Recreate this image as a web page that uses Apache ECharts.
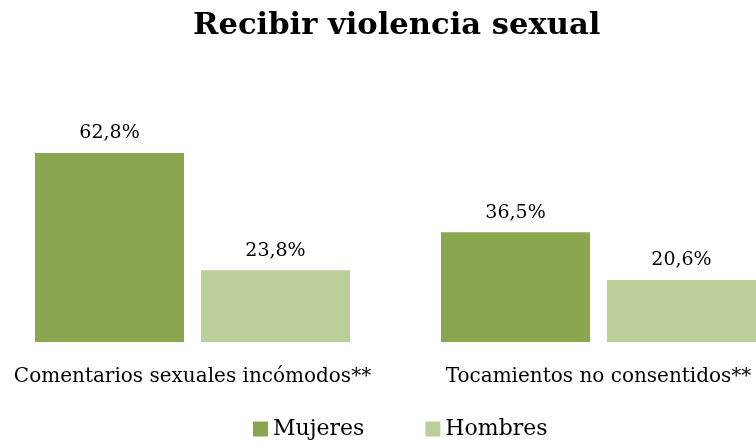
<html lang="es">
<head>
  <meta charset="UTF-8">
  <title>Recibir violencia sexual</title>
  <style>
    html, body { margin: 0; padding: 0; background: #fff; }
    #chart { width: 756px; height: 444px; }
  </style>
</head>
<body>
  <div id="chart"></div>
  <script src="https://cdn.jsdelivr.net/npm/echarts@6/dist/echarts.min.js"></script>
  <script>
    var categories = ['Comentarios sexuales incómodos**', 'Tocamientos no consentidos**']
    var mujeres = [62.8, 36.5]
    var hombres = [23.8, 20.6]
    var seriesNames = ['Mujeres', 'Hombres']

    var font = 'DejaVu Serif'
    var fmt = function (p) {
      return p.value.toFixed(1).replace('.', ',') + '%'
    }

    var chart = echarts.init(document.getElementById('chart'))
    chart.setOption({
      color: ['#8aa64f', '#bbcf99'],
      animation: false,
      title: {
        text: 'Recibir violencia sexual',
        left: 188,
        top: 6,
        textStyle: { fontFamily: font, fontWeight: 'bold', fontSize: 30.6, color: '#000' }
      },
      legend: {
        top: 413,
        left: 248,
        itemWidth: 15,
        itemHeight: 15,
        itemGap: 61,
        icon: 'rect',
        textStyle: { fontFamily: font, fontSize: 22, color: '#000' },
        data: seriesNames
      },
      grid: { left: -10.5, width: 812, top: 41, bottom: 102, outerBoundsMode: 'none' },
      xAxis: {
        type: 'category',
        data: categories,
        axisLine: { show: false },
        axisTick: { show: false },
        axisLabel: { interval: 0, fontFamily: font, fontSize: 20, color: '#000', margin: 25 }
      },
      yAxis: {
        type: 'value',
        min: 0,
        max: 100,
        show: false
      },
      series: [
        {
          name: seriesNames[0], type: 'bar', data: mujeres, barWidth: 149, barGap: '11.4%',
          label: { show: true, position: 'top', distance: 10, formatter: fmt, fontFamily: font, fontSize: 19, color: '#000' }
        },
        {
          name: seriesNames[1], type: 'bar', data: hombres, barWidth: 149,
          label: { show: true, position: 'top', distance: 10, formatter: fmt, fontFamily: font, fontSize: 19, color: '#000' }
        }
      ]
    })
  </script>
</body>
</html>
